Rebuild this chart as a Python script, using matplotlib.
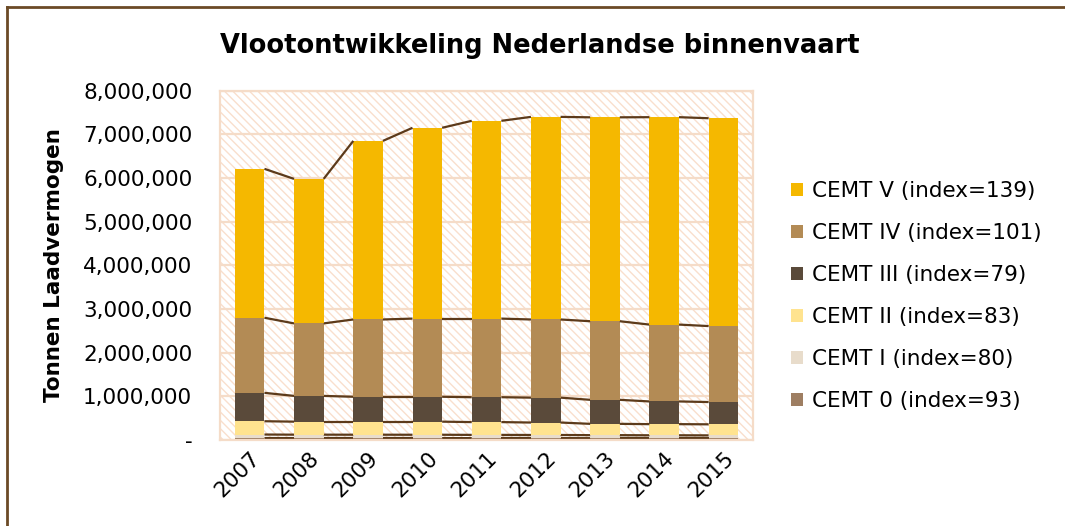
import numpy as np
import matplotlib
matplotlib.use("Agg")
import matplotlib.pyplot as plt
from matplotlib.patches import Rectangle
from matplotlib.lines import Line2D
from matplotlib.ticker import FuncFormatter

# data (tonnen laadvermogen)
years = ["2007", "2008", "2009", "2010", "2011", "2012", "2013", "2014", "2015"]
cemt_0 = [45000, 44000, 44000, 44000, 43000, 43000, 42000, 42000, 42000]
cemt_1 = [80000, 78000, 77000, 76000, 74000, 72000, 69000, 66000, 64000]
cemt_2 = [305000, 298000, 299000, 300000, 293000, 285000, 259000, 255000, 253000]
cemt_3 = [650000, 590000, 570000, 570000, 570000, 570000, 550000, 520000, 510000]
cemt_4 = [1720000, 1660000, 1770000, 1790000, 1800000, 1790000, 1800000, 1760000, 1740000]
cemt_5 = [3410000, 3310000, 4090000, 4370000, 4530000, 4640000, 4670000, 4750000, 4760000]

labels = ["CEMT 0 (index=93)", "CEMT I (index=80)", "CEMT II (index=83)",
          "CEMT III (index=79)", "CEMT IV (index=101)", "CEMT V (index=139)"]
colors = ["#9E7E62", "#E8DCCB", "#FFE38F", "#5A4A3A", "#B38B55", "#F5B800"]

series = [cemt_0, cemt_1, cemt_2, cemt_3, cemt_4, cemt_5]

plt.rcParams["hatch.linewidth"] = 1.0

fig = plt.figure(figsize=(10.65, 5.26), dpi=100)
ax = fig.add_axes([0.2066, 0.1635, 0.5005, 0.6641])

x = np.arange(len(years))
w = 0.5
bottom = np.zeros(len(years))
for vals, col, lab in zip(series, colors, labels):
    vals = np.array(vals, dtype=float)
    ax.bar(x, vals, w, bottom=bottom, color=col, label=lab, zorder=2)
    bottom = bottom + vals
    # series lines between bar tops
    for i in range(len(years) - 1):
        ax.plot([x[i] + w / 2, x[i + 1] - w / 2], [bottom[i], bottom[i + 1]],
                color="#5C3A1A", lw=1.6, zorder=2, solid_capstyle="butt")

# hatched plot area background
ax.add_patch(Rectangle((0, 0), 1, 1, transform=ax.transAxes, facecolor="white",
                       edgecolor="#F9DFCD", hatch="\\\\\\\\", lw=0, zorder=0))
ax.set_axisbelow(True)
ax.grid(axis="y", color="#F5DCC8", lw=1.6, zorder=0.5)

ax.set_xlim(-0.5, len(years) - 0.5)
ax.set_ylim(0, 8000000)
ax.set_yticks(np.arange(0, 8000001, 1000000))
ax.yaxis.set_major_formatter(FuncFormatter(lambda v, p: "-" if v == 0 else f"{int(v):,}"))
ax.set_xticks(x)
ax.set_xticklabels(years, rotation=45, ha="right", rotation_mode="anchor")
ax.tick_params(axis="y", length=0, pad=20, labelsize=15.5)
ax.tick_params(axis="x", length=0, pad=6, labelsize=15.5)
for s in ax.spines.values():
    s.set_color("#F5DCC8")
    s.set_linewidth(1.6)

ax.set_ylabel("Tonnen Laadvermogen", fontsize=15.5, fontweight="bold", labelpad=14)
fig.text(0.507, 0.913, "Vlootontwikkeling Nederlandse binnenvaart", ha="center",
         va="center", fontsize=18.5, fontweight="bold")

h, l = ax.get_legend_handles_labels()
ax.legend(h[::-1], l[::-1], loc="center left", bbox_to_anchor=(0.743, 0.437),
          bbox_transform=fig.transFigure, frameon=False, fontsize=15.5,
          handlelength=0.55, handleheight=0.55, handletextpad=0.4,
          labelspacing=1.02, borderpad=0, borderaxespad=0)

# outer chart border (top and left)
fig.add_artist(Line2D([0.0066, 0.0066], [0, 0.987], transform=fig.transFigure,
                      color="#6B4A26", lw=2))
fig.add_artist(Line2D([0.0066, 1], [0.987, 0.987], transform=fig.transFigure,
                      color="#6B4A26", lw=2))

fig.savefig("out.png", dpi=100)
